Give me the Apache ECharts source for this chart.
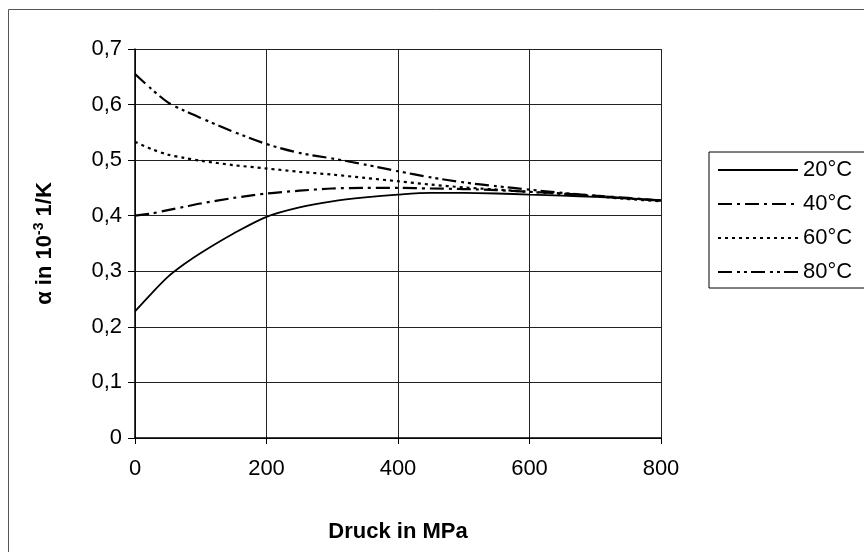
<!DOCTYPE html>
<html>
<head>
<meta charset="utf-8">
<script src="https://cdn.jsdelivr.net/npm/echarts@6/dist/echarts.min.js"></script>
<style>
  html, body { margin: 0; padding: 0; background: #fff; }
  #chart { width: 864px; height: 552px; }
</style>
</head>
<body>
<div id="chart"></div>
<script>
// Druck in MPa
var pressure = [0, 25, 50, 75, 100, 150, 200, 250, 300, 350, 400, 450, 500, 550, 600, 650, 700, 750, 800];
var seriesNames = ['20°C', '40°C', '60°C', '80°C'];
var alpha20 = [0.228, 0.26, 0.29, 0.313, 0.333, 0.368, 0.398, 0.415, 0.426, 0.433, 0.438, 0.441, 0.441, 0.44, 0.438, 0.436, 0.434, 0.431, 0.428];
var alpha40 = [0.4, 0.404, 0.41, 0.416, 0.422, 0.432, 0.44, 0.445, 0.449, 0.45, 0.45, 0.449, 0.448, 0.446, 0.443, 0.44, 0.436, 0.432, 0.427];
var alpha60 = [0.533, 0.52, 0.51, 0.504, 0.499, 0.491, 0.485, 0.479, 0.474, 0.468, 0.462, 0.456, 0.451, 0.447, 0.443, 0.439, 0.435, 0.43, 0.426];
var alpha80 = [0.655, 0.628, 0.604, 0.589, 0.576, 0.551, 0.529, 0.513, 0.503, 0.492, 0.48, 0.469, 0.46, 0.453, 0.447, 0.441, 0.436, 0.431, 0.427];

var font = 'Liberation Sans, Arial, sans-serif';

function pairs(ys) {
  return pressure.map(function(p, i) { return [p, ys[i]]; });
}

function comma(v) {
  if (v === 0) return '0';
  return v.toFixed(1).replace('.', ',');
}

var dashes = [
  'solid',
  [14, 5, 3, 5],
  [3, 4],
  [14, 5, 3, 4, 3, 4]
];
var values = [alpha20, alpha40, alpha60, alpha80];

var chart = echarts.init(document.getElementById('chart'));
var option = {
  backgroundColor: '#fff',
  animation: false,
  graphic: [{
    type: 'rect',
    shape: { x: 8.5, y: 9.5, width: 880, height: 560 },
    style: { fill: 'none', stroke: '#555', lineWidth: 1 },
    silent: true
  }],
  grid: { left: 135, right: 203, top: 49, bottom: 114 },
  legend: {
    orient: 'vertical',
    left: 709,
    top: 152,
    data: seriesNames,
    itemWidth: 80,
    itemHeight: 14,
    itemGap: 12,
    padding: [7, 30, 5, 8],
    borderColor: '#000',
    borderWidth: 1,
    itemStyle: { opacity: 0 },
    textStyle: { fontFamily: font, fontSize: 22, color: '#000', padding: [0, 0, 0, 0] }
  },
  xAxis: {
    type: 'value',
    min: 0,
    max: 800,
    interval: 200,
    name: 'Druck in MPa',
    nameLocation: 'middle',
    nameGap: 83,
    nameTextStyle: { fontFamily: font, fontSize: 22, fontWeight: 'bold', color: '#000' },
    axisLine: { lineStyle: { color: '#000', width: 1.5 } },
    axisTick: { show: true, length: 6, lineStyle: { color: '#000' } },
    axisLabel: { fontFamily: font, fontSize: 22, color: '#000', margin: 20 },
    splitLine: { show: true, lineStyle: { color: '#222', width: 1 } }
  },
  yAxis: {
    type: 'value',
    min: 0,
    max: 0.7,
    interval: 0.1,
    name: '{a|α in 10}{s|-3}{a| 1/K}',
    nameLocation: 'middle',
    nameGap: 77,
    nameRotate: 90,
    nameTextStyle: {
      rich: {
        a: { fontFamily: font, fontSize: 22, fontWeight: 'bold', color: '#000', lineHeight: 26 },
        s: { fontFamily: font, fontSize: 14, fontWeight: 'bold', color: '#000', lineHeight: 26, padding: [0, 0, 12, 0] }
      }
    },
    axisLine: { show: true, lineStyle: { color: '#000', width: 1.5 } },
    axisTick: { show: true, length: 7, lineStyle: { color: '#000' } },
    axisLabel: { fontFamily: font, fontSize: 22, color: '#000', margin: 13, formatter: comma },
    splitLine: { show: true, lineStyle: { color: '#222', width: 1 } }
  },
  series: seriesNames.map(function(name, i) {
    return {
      name: name,
      type: 'line',
      data: pairs(values[i]),
      smooth: 0.3,
      symbol: 'none',
      lineStyle: { color: '#000', width: i === 0 ? 1.8 : 2.2, type: dashes[i] },
      itemStyle: { color: '#000' }
    };
  })
};
chart.setOption(option);
</script>
</body>
</html>
